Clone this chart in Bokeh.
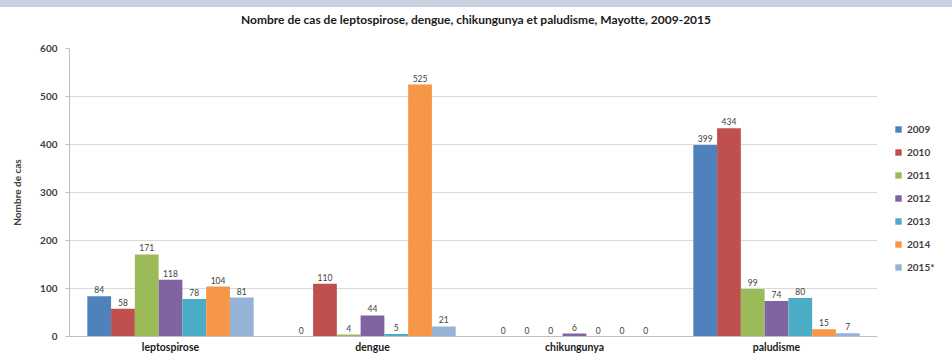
from bokeh.plotting import figure
from bokeh.models import ColumnDataSource, FactorRange, Legend, LegendItem, SingleIntervalTicker, Div
from bokeh.layouts import column
from bokeh.transform import dodge
from bokeh.core.properties import value
from bokeh.embed import file_html
from bokeh.resources import INLINE

title_text = "Nombre de cas de leptospirose, dengue, chikungunya et paludisme, Mayotte, 2009-2015"
categories = ["leptospirose", "dengue", "chikungunya", "paludisme"]
years = ["2009", "2010", "2011", "2012", "2013", "2014", "2015*"]
cas_2009 = [84, 0, 0, 399]
cas_2010 = [58, 110, 0, 434]
cas_2011 = [171, 4, 0, 99]
cas_2012 = [118, 44, 6, 74]
cas_2013 = [78, 5, 0, 80]
cas_2014 = [104, 525, 0, 15]
cas_2015 = [81, 21, 0, 7]
series = [cas_2009, cas_2010, cas_2011, cas_2012, cas_2013, cas_2014, cas_2015]
colors = ["#4F81BD", "#C0504D", "#9BBB59", "#8064A2", "#4BACC6", "#F79646", "#95B3D7"]

FONT = "Lato"
data = {"cat": categories}
for y, s in zip(years, series):
    data[y] = s
    data[y + "_lbl"] = [str(v) for v in s]
src = ColumnDataSource(data)

p = figure(frame_width=808, frame_height=288, x_range=FactorRange(*categories, range_padding=0),
           y_range=(0, 600), output_backend="svg", toolbar_location=None,
           min_border_left=69, min_border_right=0, min_border_top=7, min_border_bottom=22)

w = 1 / 8.5
items = []
for i, y in enumerate(years):
    off = (i - 3) * w
    r = p.vbar(x=dodge("cat", off, range=p.x_range), top=y, width=w, source=src,
               fill_color=colors[i], line_color=None)
    p.text(x=dodge("cat", off, range=p.x_range), y=y, text=y + "_lbl", source=src,
           text_align="center", text_baseline="bottom", y_offset=-3,
           text_font=value(FONT), text_font_size="8.5px", text_color="#404040")
    items.append(LegendItem(label=y, renderers=[r]))

legend = Legend(items=items, location=(17, 61), margin=0, padding=5,
                glyph_width=8, glyph_height=8, label_height=16, spacing=7,
                label_standoff=5, label_text_font=FONT, label_text_font_size="10px",
                label_text_font_style="bold", label_text_color="#404040",
                border_line_color=None, background_fill_alpha=0)
p.add_layout(legend, "right")

p.yaxis.ticker = SingleIntervalTicker(interval=100)
p.yaxis.axis_label = "Nombre de cas"
p.yaxis.axis_label_text_font = FONT
p.yaxis.axis_label_text_font_size = "10px"
p.yaxis.axis_label_text_font_style = "bold"
p.yaxis.axis_label_text_color = "#404040"
p.yaxis.axis_label_standoff = 14
p.yaxis.major_label_text_font = FONT
p.yaxis.major_label_text_font_size = "10px"
p.yaxis.major_label_text_font_style = "bold"
p.yaxis.major_label_text_color = "#404040"
p.yaxis.axis_line_color = "#bfbfbf"
p.yaxis.major_tick_line_color = "#bfbfbf"
p.yaxis.major_tick_out = 4
p.yaxis.major_tick_in = 0
p.yaxis.minor_tick_line_color = None
p.yaxis.major_label_standoff = 8

p.xaxis.major_label_text_font = FONT
p.xaxis.major_label_text_font_size = "10.5px"
p.xaxis.major_label_text_font_style = "bold"
p.xaxis.major_label_text_color = "#1a1a1a"
p.xaxis.axis_line_color = "#bfbfbf"
p.xaxis.major_tick_line_color = None
p.xaxis.major_tick_out = 0
p.xaxis.major_label_standoff = 4

p.xgrid.grid_line_color = None
p.ygrid.grid_line_color = "#d9d9d9"
p.outline_line_color = None

header = Div(width=952, height=41, margin=(0, 0, 0, 0),
             text=('<div style="width:952px;height:7px;background-color:#c9d3e0;"></div>'
                   '<div style="width:952px;margin-top:6px;height:14px;line-height:14px;text-align:center;'
                   'font-family:Lato;font-size:12px;font-weight:bold;color:#1a1a1a;white-space:nowrap;">'
                   + title_text + '</div>'))
layout = column(header, p, spacing=0)

open("out.html", "w").write(file_html(layout, INLINE))
